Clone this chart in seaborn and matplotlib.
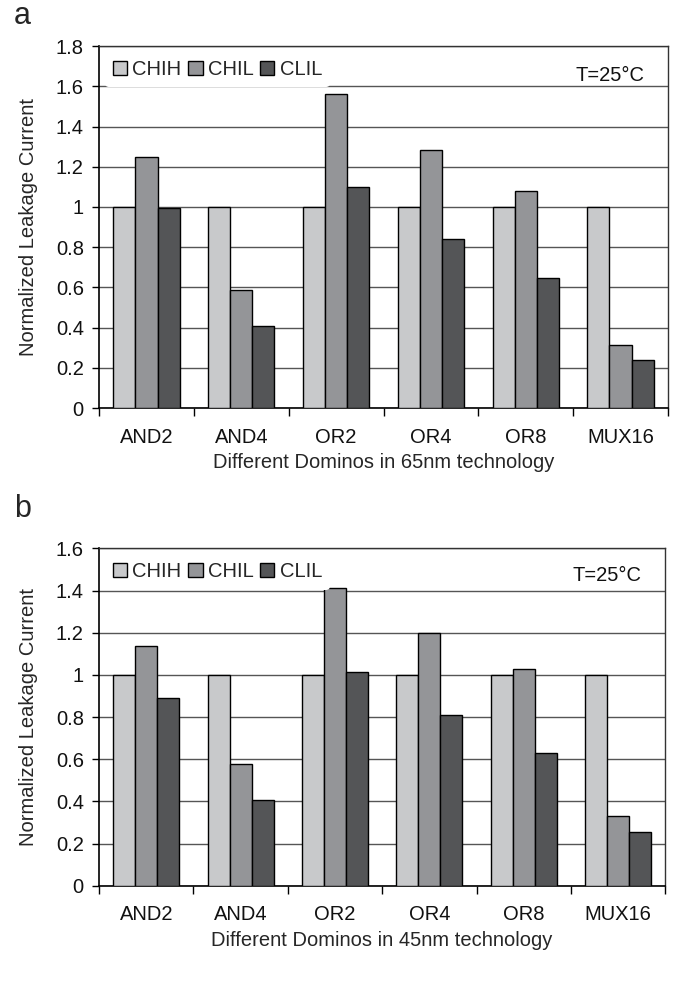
import matplotlib
matplotlib.use("Agg")
import matplotlib.pyplot as plt
import seaborn as sns
import pandas as pd
import numpy as np
from matplotlib.ticker import FormatStrFormatter, FixedLocator, NullFormatter
from matplotlib.patches import Patch

categories = ["AND2", "AND4", "OR2", "OR4", "OR8", "MUX16"]
series = ["CHIH", "CHIL", "CLIL"]

chih_65 = [1.0, 1.0, 1.0, 1.0, 1.0, 1.0]
chil_65 = [1.25, 0.585, 1.56, 1.285, 1.08, 0.315]
clil_65 = [0.995, 0.41, 1.10, 0.84, 0.645, 0.24]

chih_45 = [1.0, 1.0, 1.0, 1.0, 1.0, 1.0]
chil_45 = [1.135, 0.58, 1.41, 1.20, 1.03, 0.33]
clil_45 = [0.89, 0.405, 1.015, 0.81, 0.63, 0.255]

xlabels = ["Different Dominos in 65nm technology", "Different Dominos in 45nm technology"]
ylabel = "Normalized Leakage Current"
panel_labels = ["a", "b"]
ymax = [1.8, 1.6]

colors = ["#c8c9cb", "#949598", "#545557"]

sns.set_theme(style="white")
plt.rcParams['font.family'] = ['Liberation Sans', 'DejaVu Sans']

FS = 14.5

fig = plt.figure(figsize=(6.83, 9.81), dpi=100)
ax1 = fig.add_axes([0.145, 0.584, 0.833, 0.369])
ax2 = fig.add_axes([0.145, 0.097, 0.829, 0.344])

def make_df(a, b, c):
    rows = []
    for s, vals in zip(series, [a, b, c]):
        for cat, v in zip(categories, vals):
            rows.append({"cat": cat, "series": s, "value": v})
    return pd.DataFrame(rows)

datasets = [make_df(chih_65, chil_65, clil_65), make_df(chih_45, chil_45, clil_45)]

for i, (ax, df) in enumerate(zip([ax1, ax2], datasets)):
    sns.barplot(data=df, x="cat", y="value", hue="series", order=categories,
                hue_order=series, palette=colors, width=0.7, edgecolor="black",
                linewidth=1.0, saturation=1, ax=ax, legend=False, zorder=3)
    ax.set_ylim(0, ymax[i])
    ax.set_xlim(-0.5, 5.5)
    ax.yaxis.set_major_locator(FixedLocator(np.arange(0, ymax[i] + 0.01, 0.2)))
    ax.yaxis.set_major_formatter(FormatStrFormatter('%g'))
    ax.grid(axis='y', color='#555555', linewidth=1.0, zorder=0)
    ax.set_axisbelow(True)
    for sp in ['top', 'right']:
        ax.spines[sp].set_color('#333333')
        ax.spines[sp].set_linewidth(1.0)
    for sp in ['left', 'bottom']:
        ax.spines[sp].set_color('black')
        ax.spines[sp].set_linewidth(1.2)
    ax.tick_params(axis='y', which='major', direction='out', length=5, width=1,
                   color='black', labelsize=FS, pad=6, left=True)
    ax.set_xticks(range(len(categories)))
    ax.set_xticklabels(categories)
    ax.tick_params(axis='x', which='major', length=0, labelsize=FS, pad=14)
    ax.set_xticks(np.arange(-0.5, 6.0, 1.0), minor=True)
    ax.xaxis.set_minor_formatter(NullFormatter())
    ax.tick_params(axis='x', which='minor', direction='out', length=6, width=1,
                   color='black', bottom=True)
    ax.set_xlabel(xlabels[i], fontsize=FS, labelpad=5)
    ax.set_ylabel(ylabel, fontsize=FS, labelpad=13)
    for lbl in ax.get_yticklabels() + ax.get_xticklabels():
        lbl.set_color('#111111')

    handles = [Patch(facecolor=c, edgecolor='black', linewidth=1.0) for c in colors]
    leg = ax.legend(handles, series, loc='upper left', ncol=3, frameon=True,
                    fontsize=FS, handlelength=0.7, handleheight=0.7,
                    handletextpad=0.25, columnspacing=0.35, borderaxespad=0.3,
                    borderpad=0.4)
    leg.get_frame().set_facecolor('white')
    leg.get_frame().set_edgecolor('none')
    leg.get_frame().set_alpha(1)
    leg.set_zorder(5)
    ax.text(0.898, 0.92, "T=25°C", transform=ax.transAxes, ha='center',
            va='center', fontsize=FS, color='#111111', zorder=6)

fig.text(0.020, 0.984, panel_labels[0], fontsize=22, va='center', ha='left')
fig.text(0.020, 0.481, panel_labels[1], fontsize=22, va='center', ha='left')

fig.savefig("out.png", dpi=100, facecolor='white')
